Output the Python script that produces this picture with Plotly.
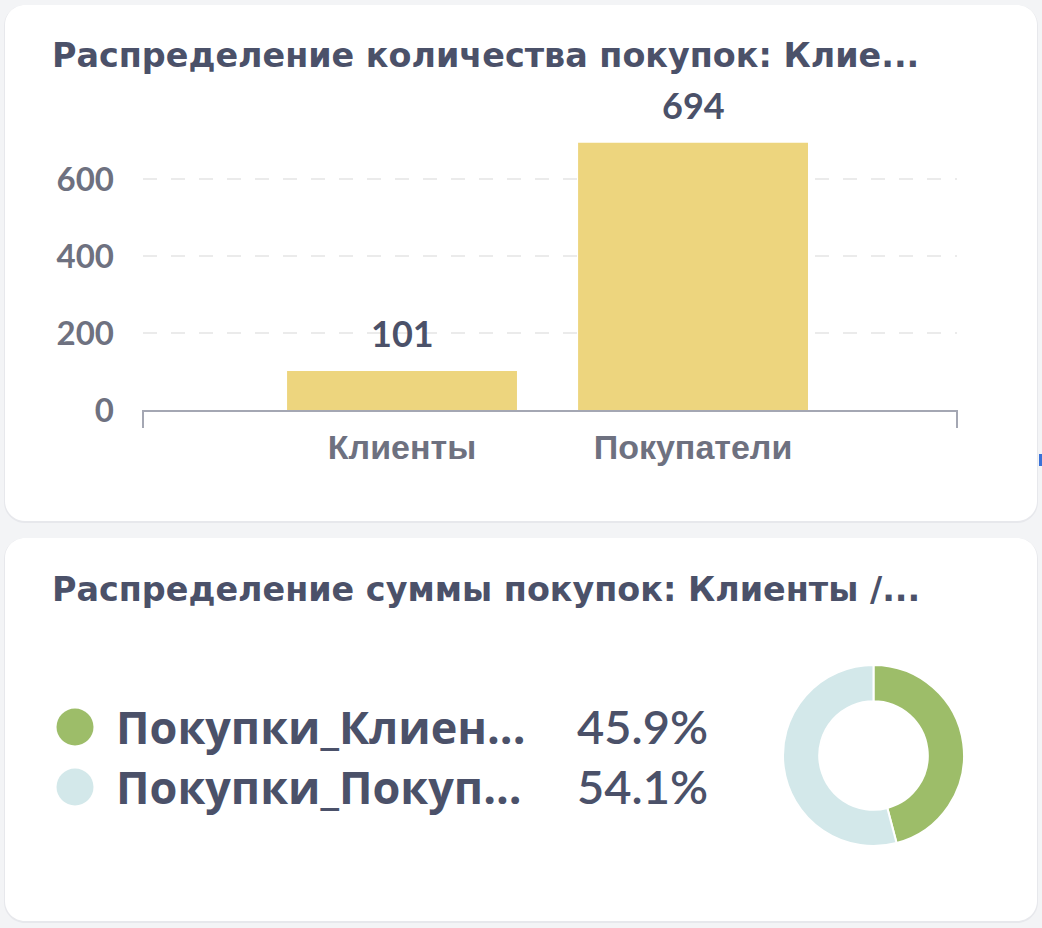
import plotly.graph_objects as go

W, H = 1042, 928

# ---- data ----
categories = ["Клиенты", "Покупатели"]
counts = [101, 694]
y_ticks = [0, 200, 400, 600]
title_bar = "Распределение количества покупок: Клие..."
title_pie = "Распределение суммы покупок: Клиенты /..."
pie_labels = ["Покупки_Клиен...", "Покупки_Покуп..."]
pie_values = [45.9, 54.1]

# ---- styles ----
pie_colors = ["#9dbd69", "#d3e8ea"]
bar_color = "#edd57e"
title_color = "#4b5169"
tick_color = "#6e7180"
axis_color = "#a4a7b3"
NUM_FONT = "Lato"
LBL_FONT = "Liberation Sans"
TITLE_FONT = "DejaVu Sans"
LEG_FONT = "Open Sans"


def fx(x):
    return x / W


def fy(y):
    return 1 - y / H


def rrect_path(x0, y0, x1, y1, r):
    c = 0.5523 * r
    pts = [
        ("M", [(x0 + r, y0)]),
        ("L", [(x1 - r, y0)]),
        ("C", [(x1 - r + c, y0), (x1, y0 + r - c), (x1, y0 + r)]),
        ("L", [(x1, y1 - r)]),
        ("C", [(x1, y1 - r + c), (x1 - r + c, y1), (x1 - r, y1)]),
        ("L", [(x0 + r, y1)]),
        ("C", [(x0 + r - c, y1), (x0, y1 - r + c), (x0, y1 - r)]),
        ("L", [(x0, y0 + r)]),
        ("C", [(x0, y0 + r - c), (x0 + r - c, y0), (x0 + r, y0)]),
    ]
    s = ""
    for cmd, ps in pts:
        s += cmd + " " + " ".join(f"{fx(a):.5f},{fy(b):.5f}" for a, b in ps) + " "
    return s + "Z"


shapes = []
for (x0, y0, x1, y1) in [(5, 5, 1037, 521), (5, 538, 1037, 921)]:
    shapes.append(dict(type="path", path=rrect_path(x0 - 1, y0, x1 + 1, y1 + 2, 21),
                       xref="paper", yref="paper", fillcolor="#e7e8ec",
                       line=dict(width=0), layer="below"))
    shapes.append(dict(type="path", path=rrect_path(x0, y0, x1, y1, 20),
                       xref="paper", yref="paper", fillcolor="#ffffff",
                       line=dict(width=0), layer="below"))

# end ticks of x axis
for xd in (0, 1):
    shapes.append(dict(type="line", xref="x domain", yref="paper",
                       x0=xd, x1=xd, y0=fy(410), y1=fy(428),
                       line=dict(color=axis_color, width=2)))

# stray blue mark at right edge
shapes.append(dict(type="rect", xref="paper", yref="paper",
                   x0=fx(1039), x1=fx(1042), y0=fy(466), y1=fy(454),
                   fillcolor="#3a72d8", line=dict(width=0)))

# legend dots
for i, col in enumerate(pie_colors):
    cy = 727 + 60 * i
    shapes.append(dict(type="circle", xref="paper", yref="paper",
                       xsizemode="pixel", ysizemode="pixel",
                       xanchor=fx(75), yanchor=fy(cy),
                       x0=-18.5, x1=18.5, y0=-18.5, y1=18.5,
                       fillcolor=col, line=dict(width=0)))

fig = go.Figure()
fig.add_trace(go.Bar(x=categories, y=counts, width=0.79,
                     marker=dict(color=bar_color, line=dict(width=0)),
                     showlegend=False, hoverinfo="x+y"))

total = sum(pie_values)
fig.add_trace(go.Pie(values=pie_values, labels=pie_labels, hole=0.6, sort=False,
                     direction="clockwise", rotation=0,
                     marker=dict(colors=pie_colors, line=dict(color="#ffffff", width=2)),
                     textinfo="none", showlegend=False,
                     domain=dict(x=[fx(783), fx(964)], y=[fy(846), fy(665)])))

annotations = []
annotations.append(dict(text=title_bar, xref="paper", yref="paper", x=fx(50), y=fy(55),
                        xanchor="left", yanchor="middle", showarrow=False,
                        font=dict(family=TITLE_FONT, size=33.4, weight="bold", color=title_color)))
annotations.append(dict(text=title_pie, xref="paper", yref="paper", x=fx(50), y=fy(589),
                        xanchor="left", yanchor="middle", showarrow=False,
                        font=dict(family=TITLE_FONT, size=33.4, weight="bold", color=title_color)))

for c, v in zip(categories, counts):
    annotations.append(dict(text=str(v), x=c, y=v, xref="x", yref="y",
                            xanchor="center", yanchor="bottom", yshift=14, showarrow=False,
                            font=dict(family=NUM_FONT, size=36, weight="bold", color=title_color)))

for i, (lab, v) in enumerate(zip(pie_labels, pie_values)):
    cy = 726 + 60 * i
    annotations.append(dict(text=lab, xref="paper", yref="paper", x=fx(114), y=fy(cy),
                            xanchor="left", yanchor="middle", showarrow=False,
                            font=dict(family=LEG_FONT, size=45, weight="bold", color=title_color)))
    annotations.append(dict(text=f"{v / total * 100:.1f}%", xref="paper", yref="paper",
                            x=fx(710), y=fy(cy), xanchor="right", yanchor="middle",
                            showarrow=False,
                            font=dict(family=NUM_FONT, size=47, weight=600, color=title_color)))

fig.update_layout(
    width=W, height=H, autosize=False,
    margin=dict(l=0, r=0, t=0, b=0, pad=0),
    paper_bgcolor="#f3f4f6", plot_bgcolor="rgba(0,0,0,0)",
    shapes=shapes, annotations=annotations,
    xaxis=dict(type="category", range=[-0.89, 1.907], domain=[fx(143), fx(957)],
               automargin=False,
               showline=True, linecolor=axis_color, linewidth=2, showgrid=False,
               ticks="", ticklabelstandoff=6, fixedrange=True,
               tickfont=dict(family=LBL_FONT, size=34, weight="bold", color=tick_color)),
    yaxis=dict(range=[0, 750], domain=[fy(410), fy(121.25)], automargin=False,
               tickvals=y_ticks, showgrid=True, gridcolor="#ebebeb", gridwidth=2,
               griddash="14px,14px", zeroline=False, showline=False, ticks="",
               ticklabelstandoff=28, fixedrange=True,
               tickfont=dict(family=NUM_FONT, size=33, weight="bold", color=tick_color)),
)

fig.write_html("out.html")
